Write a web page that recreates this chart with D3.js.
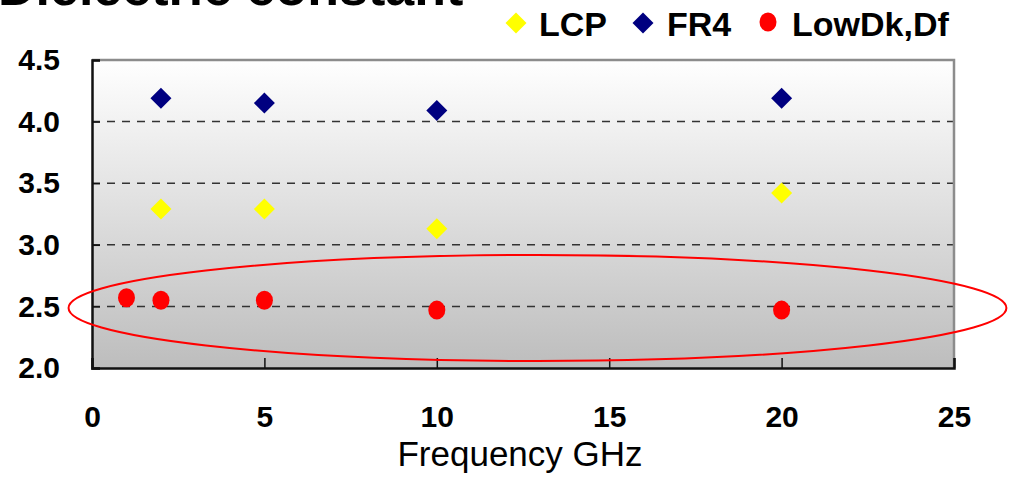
<!DOCTYPE html>
<html>
<head>
<meta charset="utf-8">
<script src="https://cdn.jsdelivr.net/npm/d3@7"></script>
<style>
html, body { margin: 0; padding: 0; background: #ffffff; }
svg { display: block; }
</style>
</head>
<body>
<svg id="chart" width="1016" height="483"></svg>
<script>
// ---- data ----
const title = "Dielectric constant";
const xLabel = "Frequency GHz";
const seriesNames = ["LCP", "FR4", "LowDk,Df"];
const lcpFreq = [2, 5, 10, 20];
const lcpValues = [3.29, 3.29, 3.13, 3.42];
const fr4Freq = [2, 5, 10, 20];
const fr4Values = [4.19, 4.15, 4.09, 4.19];
const lowFreq = [1, 2, 5, 10, 20];
const lowValues = [2.57, 2.55, 2.55, 2.47, 2.47];
const xTicks = [0, 5, 10, 15, 20, 25];
const yTicks = [2.0, 2.5, 3.0, 3.5, 4.0, 4.5];
const xDomain = [0, 25];
const yDomain = [2.0, 4.5];
// highlight ellipse (data coordinates: centre, radii)
const ellipseCenter = [12.92, 2.487];
const ellipseRadii = [13.6, 0.43];

// ---- layout ----
const svg = d3.select("#chart");
const pLeft = 92, pRight = 954, pTop = 60, pBottom = 368;
const x = d3.scaleLinear().domain(xDomain).range([pLeft, pRight]);
const y = d3.scaleLinear().domain(yDomain).range([pBottom, pTop]);
const font = "'Liberation Sans', Arial, sans-serif";

const defs = svg.append("defs");
const grad = defs.append("linearGradient").attr("id", "bg")
  .attr("x1", 0).attr("y1", 0).attr("x2", 0).attr("y2", 1);
grad.append("stop").attr("offset", "0%").attr("stop-color", "#ffffff");
grad.append("stop").attr("offset", "100%").attr("stop-color", "#bdbdbd");

// plot background
svg.append("rect").attr("x", pLeft).attr("y", pTop)
  .attr("width", pRight - pLeft).attr("height", pBottom - pTop)
  .attr("fill", "url(#bg)");

// gridlines
svg.append("g").selectAll("line")
  .data(yTicks.filter(d => d > yDomain[0] && d < yDomain[1]))
  .join("line")
  .attr("x1", pLeft).attr("x2", pRight)
  .attr("y1", d => y(d)).attr("y2", d => y(d))
  .attr("stroke", "#333").attr("stroke-width", 1.5)
  .attr("stroke-dasharray", "8,7");

// top and right border (gray)
svg.append("path")
  .attr("d", `M${pLeft},${pTop}H${pRight}V${pBottom}`)
  .attr("fill", "none").attr("stroke", "#8c8c8c").attr("stroke-width", 2.5);

// axes
const xAxis = d3.axisBottom(x).tickValues(xTicks).tickSize(-10).tickPadding(38)
  .tickFormat(d3.format("d"));
const gx = svg.append("g").attr("transform", `translate(0,${pBottom})`).call(xAxis);
gx.select(".domain").attr("stroke", "#111").attr("stroke-width", 2.5);
gx.selectAll(".tick line").attr("stroke", "#111").attr("stroke-width", 1.5);
gx.selectAll(".tick text").attr("font-family", font).attr("font-size", 30)
  .attr("font-weight", "bold").attr("fill", "#000");

const yAxis = d3.axisLeft(y).tickValues(yTicks).tickSize(-8).tickPadding(32)
  .tickFormat(d3.format(".1f"));
const gy = svg.append("g").attr("transform", `translate(${pLeft},0)`).call(yAxis);
gy.select(".domain").attr("stroke", "#111").attr("stroke-width", 2.5);
gy.selectAll(".tick line").attr("stroke", "#111").attr("stroke-width", 1.5);
gy.selectAll(".tick text").attr("font-family", font).attr("font-size", 30)
  .attr("font-weight", "bold").attr("fill", "#000");

// ellipse annotation
svg.append("ellipse")
  .attr("cx", x(ellipseCenter[0])).attr("cy", y(ellipseCenter[1]))
  .attr("rx", x(ellipseRadii[0]) - x(0))
  .attr("ry", y(yDomain[0]) - y(yDomain[0] + ellipseRadii[1]))
  .attr("fill", "none").attr("stroke", "#ff0000").attr("stroke-width", 2);

// markers
const dHalf = 10.5;
const diamondPath = `M0,${-dHalf}L${dHalf},0L0,${dHalf}L${-dHalf},0Z`;
function diamonds(freqs, vals, color) {
  svg.append("g").selectAll("path")
    .data(freqs.map((f, i) => [f, vals[i]]))
    .join("path")
    .attr("d", diamondPath)
    .attr("transform", d => `translate(${x(d[0])},${y(d[1])})`)
    .attr("fill", color);
}
diamonds(lcpFreq, lcpValues, "#ffff00");
diamonds(fr4Freq, fr4Values, "#000080");
svg.append("g").selectAll("ellipse")
  .data(lowFreq.map((f, i) => [f, lowValues[i]]))
  .join("ellipse")
  .attr("cx", d => x(d[0])).attr("cy", d => y(d[1]))
  .attr("rx", 8.5).attr("ry", 9.5)
  .attr("fill", "#ff0000");

// title (cut off at top)
svg.append("text").attr("x", -2).attr("y", 5)
  .attr("font-family", font).attr("font-size", 52).attr("font-weight", "bold")
  .attr("fill", "#000").text(title);

// x label
svg.append("text").attr("x", 520).attr("y", 466).attr("text-anchor", "middle")
  .attr("font-family", font).attr("font-size", 35).attr("fill", "#000").text(xLabel);

// legend
const legendItems = [
  { name: seriesNames[0], color: "#ffff00", shape: "diamond", mx: 516, tx: 539 },
  { name: seriesNames[1], color: "#000080", shape: "diamond", mx: 643, tx: 667 },
  { name: seriesNames[2], color: "#ff0000", shape: "circle", mx: 768, tx: 792 }
];
const lg = svg.append("g");
legendItems.forEach(it => {
  if (it.shape === "diamond") {
    lg.append("path").attr("d", diamondPath)
      .attr("transform", `translate(${it.mx},23)`).attr("fill", it.color);
  } else {
    lg.append("ellipse").attr("cx", it.mx).attr("cy", 22)
      .attr("rx", 8.5).attr("ry", 9.5).attr("fill", it.color);
  }
  lg.append("text").attr("x", it.tx).attr("y", 36)
    .attr("font-family", font).attr("font-size", 34).attr("font-weight", "bold")
    .attr("fill", "#000").text(it.name);
});
</script>
</body>
</html>
